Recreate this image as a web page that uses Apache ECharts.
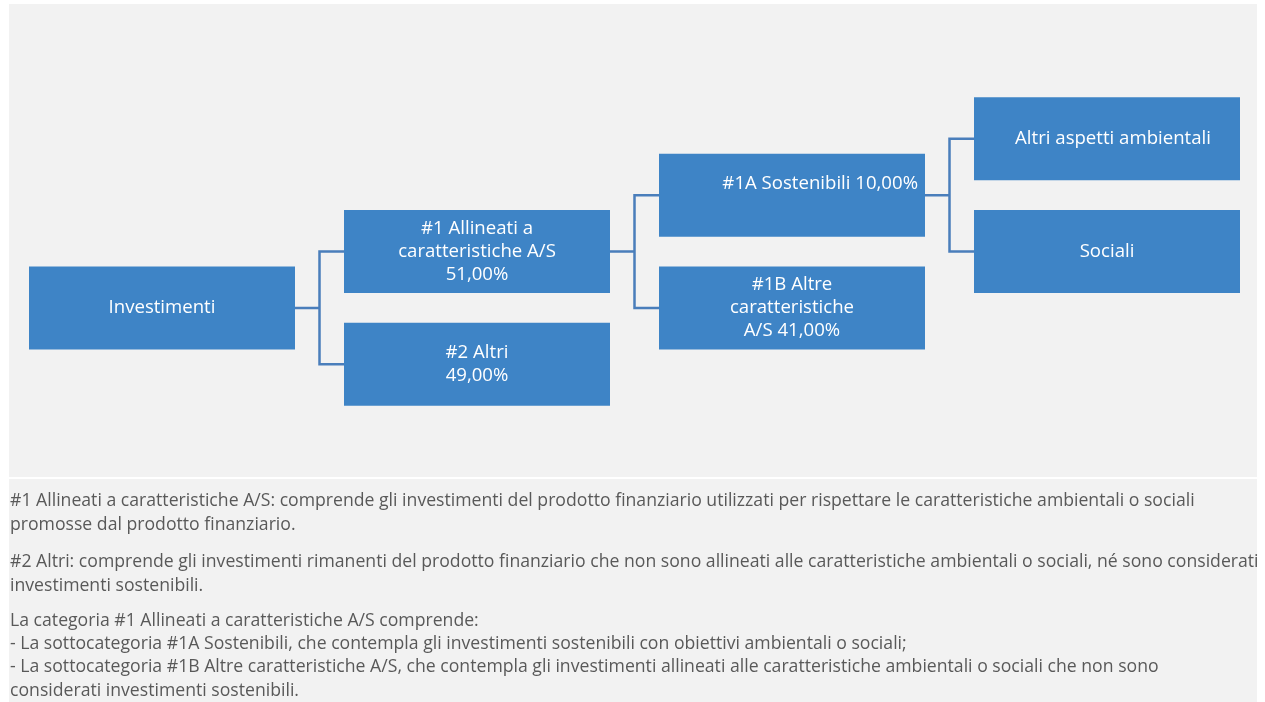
<!DOCTYPE html>
<html>
<head>
<meta charset="utf-8">
<script src="https://cdn.jsdelivr.net/npm/echarts@6/dist/echarts.min.js"></script>
<style>
  html, body { margin: 0; padding: 0; background: #ffffff; }
  #chart { width: 1265px; height: 702px; }
</style>
</head>
<body>
<div id="chart"></div>
<script>
// nodi dell'albero (etichette come nel grafico)
const rootName = 'Investimenti';
const levelOne = ['#1 Allineati a\ncaratteristiche A/S\n51,00%', '#2 Altri\n49,00%'];
const levelTwo = ['#1A Sostenibili 10,00%', '#1B Altre\ncaratteristiche\nA/S 41,00%'];
const levelThree = ['Altri aspetti ambientali', 'Sociali'];

// note sotto lo schema
const noteParagraphs = [
    '#1 Allineati a caratteristiche A/S: comprende gli investimenti del prodotto finanziario utilizzati per rispettare le caratteristiche ambientali o sociali\npromosse dal prodotto finanziario.',
    '#2 Altri: comprende gli investimenti rimanenti del prodotto finanziario che non sono allineati alle caratteristiche ambientali o sociali, né sono considerati\ninvestimenti sostenibili.',
    'La categoria #1 Allineati a caratteristiche A/S comprende:\n- La sottocategoria #1A Sostenibili, che contempla gli investimenti sostenibili con obiettivi ambientali o sociali;\n- La sottocategoria #1B Altre caratteristiche A/S, che contempla gli investimenti allineati alle caratteristiche ambientali o sociali che non sono\nconsiderati investimenti sostenibili.'
];

const FONT = '"Open Sans", "Noto Sans", sans-serif';
const BOX = '#3e84c6';
const TEXT_GREY = '#595959';

// costruzione dell'albero
const treeData = {
    name: rootName,
    children: [
        {
            name: levelOne[0],
            children: [
                {
                    name: levelTwo[0],
                    // nel grafico originale il testo sta in alto a destra
                    label: { position: 'insideRight', distance: 7, align: 'right', offset: [0, -11] },
                    children: levelThree.map((n, i) => i === 0
                        ? { name: n, label: { offset: [6, 0] } }
                        : { name: n })
                },
                { name: levelTwo[1] }
            ]
        },
        { name: levelOne[1] }
    ]
};

const chart = echarts.init(document.getElementById('chart'));

const noteTops = [489, 550, 609];
const noteLineHeights = [24, 24, 23.3];

const option = {
    backgroundColor: '#ffffff',
    animation: false,
    graphic: [
        { type: 'rect', z: -10, silent: true, shape: { x: 9, y: 4, width: 1248, height: 473 }, style: { fill: '#f2f2f2' } },
        { type: 'rect', z: -10, silent: true, shape: { x: 9, y: 479, width: 1248, height: 223 }, style: { fill: '#f2f2f2' } }
    ].concat(noteParagraphs.map((txt, i) => ({
        type: 'text',
        silent: true,
        left: 10,
        top: noteTops[i],
        style: {
            text: txt,
            fill: TEXT_GREY,
            font: '17.65px ' + FONT,
            lineHeight: noteLineHeights[i]
        }
    }))),
    series: [
        {
            type: 'tree',
            data: [treeData],
            layout: 'orthogonal',
            orient: 'LR',
            left: 162,
            right: 158,
            top: 26,
            bottom: 225,
            roam: false,
            expandAndCollapse: false,
            initialTreeDepth: -1,
            edgeShape: 'polyline',
            symbol: 'rect',
            symbolSize: [266, 83],
            itemStyle: { color: BOX, borderWidth: 0 },
            lineStyle: { color: '#4a7ebb', width: 2.5, curveness: 0 },
            label: {
                show: true,
                position: 'inside',
                color: '#ffffff',
                fontFamily: FONT,
                fontSize: 18.6,
                lineHeight: 23,
                align: 'center',
                verticalAlign: 'middle'
            },
            leaves: {
                label: { position: 'inside', align: 'center', verticalAlign: 'middle' }
            },
            emphasis: { disabled: true }
        }
    ]
};

chart.setOption(option);
</script>
</body>
</html>
